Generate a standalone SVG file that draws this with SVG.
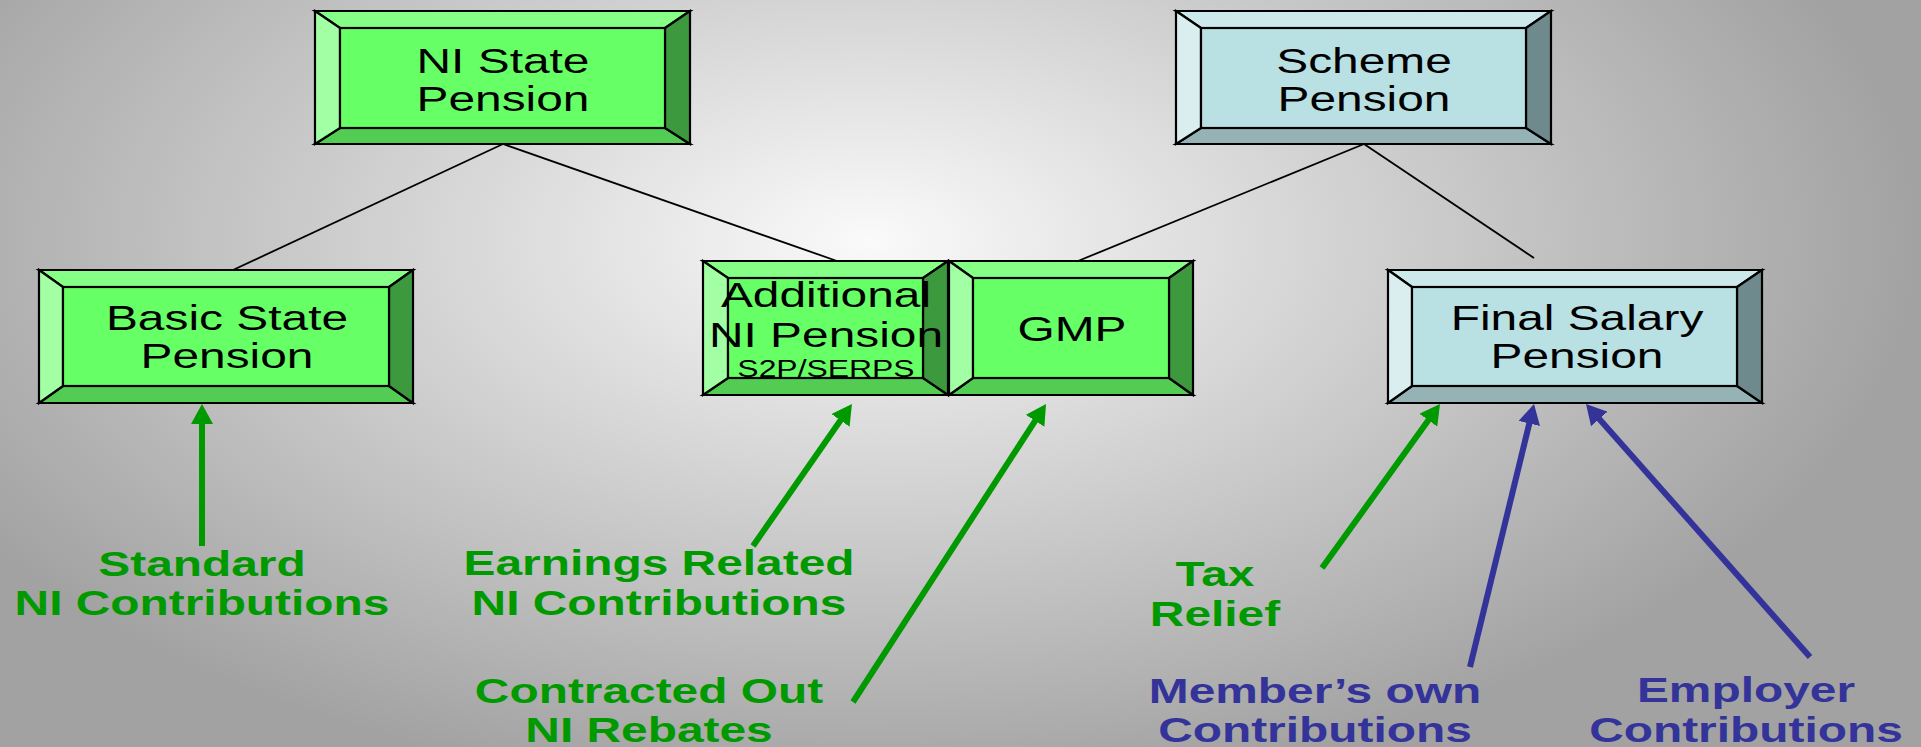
<svg xmlns="http://www.w3.org/2000/svg" width="1921" height="747" viewBox="0 0 1921 747">
<defs>
<radialGradient id="bg" gradientUnits="userSpaceOnUse" cx="0" cy="0" r="1" gradientTransform="translate(870 240) scale(1050 560)">
<stop offset="0" stop-color="#FAFAFA"/>
<stop offset="1" stop-color="#A2A2A2"/>
</radialGradient>
<marker id="ag" markerUnits="userSpaceOnUse" markerWidth="20" markerHeight="22" refX="8" refY="11" orient="auto">
<path d="M0,0 L20,11 L0,22 Z" fill="#009900"/>
</marker>
<marker id="ab" markerUnits="userSpaceOnUse" markerWidth="20" markerHeight="22" refX="8" refY="11" orient="auto">
<path d="M0,0 L20,11 L0,22 Z" fill="#333399"/>
</marker>
</defs>
<style>
.bev{stroke:#000;stroke-width:2.2;stroke-linejoin:miter}
.g .f{fill:#66FF66}.g .t{fill:#85FF85}.g .l{fill:#A3FFA3}.g .r{fill:#3D993D}.g .b{fill:#52CC52}
.c .f{fill:#B9E0E3}.c .t{fill:#CCE8EB}.c .l{fill:#DAEEF0}.c .r{fill:#6F8A8C}.c .b{fill:#95B3B5}
.bt{font-family:"Liberation Sans",Arial,sans-serif;font-size:36px;fill:#000;text-anchor:middle}
.sm{font-size:24px}
.lg{font-family:"Liberation Sans",Arial,sans-serif;font-size:36px;font-weight:bold;fill:#009900;text-anchor:middle}
.lb{font-family:"Liberation Sans",Arial,sans-serif;font-size:36px;font-weight:bold;fill:#333399;text-anchor:middle}
.con{stroke:#000;stroke-width:1.8;fill:none}
.arg{stroke:#009900;stroke-width:6;fill:none;marker-end:url(#ag)}
.arb{stroke:#333399;stroke-width:6;fill:none;marker-end:url(#ab)}
</style>
<rect x="0" y="0" width="1921" height="747" fill="url(#bg)"/>

<g id="connectors">
<line class="con" x1="503" y1="144" x2="233" y2="270"/>
<line class="con" x1="503" y1="144" x2="837" y2="261"/>
<line class="con" x1="1364" y1="144" x2="1078" y2="261"/>
<line class="con" x1="1364" y1="144" x2="1534" y2="258"/>
<line class="arg" x1="202" y1="546" x2="202" y2="416"/>
<line class="arg" x1="753" y1="546" x2="845.1" y2="413.8"/>
<line class="arg" x1="853" y1="702" x2="1039.5" y2="414.1"/>
<line class="arg" x1="1322" y1="568" x2="1433" y2="413.7"/>
<line class="arb" x1="1470" y1="667" x2="1531.2" y2="415.7"/>
<line class="arb" x1="1810" y1="657" x2="1594" y2="413"/>
</g>

<g id="ni-state" class="g">
<polygon class="bev t" points="315,11 690,11 665,28 340,28"/>
<polygon class="bev b" points="315,144 690,144 665,128 340,128"/>
<polygon class="bev l" points="315,11 340,28 340,128 315,144"/>
<polygon class="bev r" points="690,11 665,28 665,128 690,144"/>
<rect class="bev f" x="340" y="28" width="325" height="100"/>
<text class="bt" transform="translate(503 73) scale(1.33 1)"><tspan x="0" y="0">NI State</tspan><tspan x="0" y="38">Pension</tspan></text>
</g>

<g id="scheme-pension" class="c">
<polygon class="bev t" points="1176,11 1551,11 1526,28 1201,28"/>
<polygon class="bev b" points="1176,144 1551,144 1526,128 1201,128"/>
<polygon class="bev l" points="1176,11 1201,28 1201,128 1176,144"/>
<polygon class="bev r" points="1551,11 1526,28 1526,128 1551,144"/>
<rect class="bev f" x="1201" y="28" width="325" height="100"/>
<text class="bt" transform="translate(1364 73) scale(1.33 1)"><tspan x="0" y="0">Scheme</tspan><tspan x="0" y="38">Pension</tspan></text>
</g>

<g id="basic-state" class="g">
<polygon class="bev t" points="39,270 413,270 389,287 63,287"/>
<polygon class="bev b" points="39,403 413,403 389,386 63,386"/>
<polygon class="bev l" points="39,270 63,287 63,386 39,403"/>
<polygon class="bev r" points="413,270 389,287 389,386 413,403"/>
<rect class="bev f" x="63" y="287" width="326" height="99"/>
<text class="bt" transform="translate(227 330) scale(1.33 1)"><tspan x="0" y="0">Basic State</tspan><tspan x="0" y="38">Pension</tspan></text>
</g>

<g id="additional" class="g">
<polygon class="bev t" points="703,261 948,261 923,278 728,278"/>
<polygon class="bev b" points="703,395 948,395 923,378 728,378"/>
<polygon class="bev l" points="703,261 728,278 728,378 703,395"/>
<polygon class="bev r" points="948,261 923,278 923,378 948,395"/>
<rect class="bev f" x="728" y="278" width="195" height="100"/>
<text class="bt" transform="translate(826 307) scale(1.33 1)"><tspan x="0" y="0">Additional</tspan><tspan x="0" y="40">NI Pension</tspan><tspan class="sm" x="0" y="70">S2P/SERPS</tspan></text>
</g>

<g id="gmp" class="g">
<polygon class="bev t" points="949,261 1193,261 1169,278 973,278"/>
<polygon class="bev b" points="949,395 1193,395 1169,378 973,378"/>
<polygon class="bev l" points="949,261 973,278 973,378 949,395"/>
<polygon class="bev r" points="1193,261 1169,278 1169,378 1193,395"/>
<rect class="bev f" x="973" y="278" width="196" height="100"/>
<text class="bt" transform="translate(1072 341) scale(1.33 1)">GMP</text>
</g>

<g id="final-salary" class="c">
<polygon class="bev t" points="1388,270 1762,270 1737,287 1412,287"/>
<polygon class="bev b" points="1388,403 1762,403 1737,386 1412,386"/>
<polygon class="bev l" points="1388,270 1412,287 1412,386 1388,403"/>
<polygon class="bev r" points="1762,270 1737,287 1737,386 1762,403"/>
<rect class="bev f" x="1412" y="287" width="325" height="99"/>
<text class="bt" transform="translate(1577 330) scale(1.33 1)"><tspan x="0" y="0">Final Salary</tspan><tspan x="0" y="38">Pension</tspan></text>
</g>

<g id="label-standard">
<text class="lg" transform="translate(202 576) scale(1.33 1)"><tspan x="0" y="0">Standard</tspan><tspan x="0" y="39">NI Contributions</tspan></text>
</g>
<g id="label-earnings">
<text class="lg" transform="translate(659 575) scale(1.33 1)"><tspan x="0" y="0">Earnings Related</tspan><tspan x="0" y="40">NI Contributions</tspan></text>
</g>
<g id="label-contracted">
<text class="lg" transform="translate(649 703) scale(1.33 1)"><tspan x="0" y="0">Contracted Out</tspan><tspan x="0" y="39">NI Rebates</tspan></text>
</g>
<g id="label-tax">
<text class="lg" transform="translate(1215 586) scale(1.33 1)"><tspan x="0" y="0">Tax</tspan><tspan x="0" y="40">Relief</tspan></text>
</g>
<g id="label-member">
<text class="lb" transform="translate(1315 703) scale(1.33 1)"><tspan x="0" y="0">Member’s own</tspan><tspan x="0" y="39">Contributions</tspan></text>
</g>
<g id="label-employer">
<text class="lb" transform="translate(1746 702) scale(1.33 1)"><tspan x="0" y="0">Employer</tspan><tspan x="0" y="40">Contributions</tspan></text>
</g>
</svg>
